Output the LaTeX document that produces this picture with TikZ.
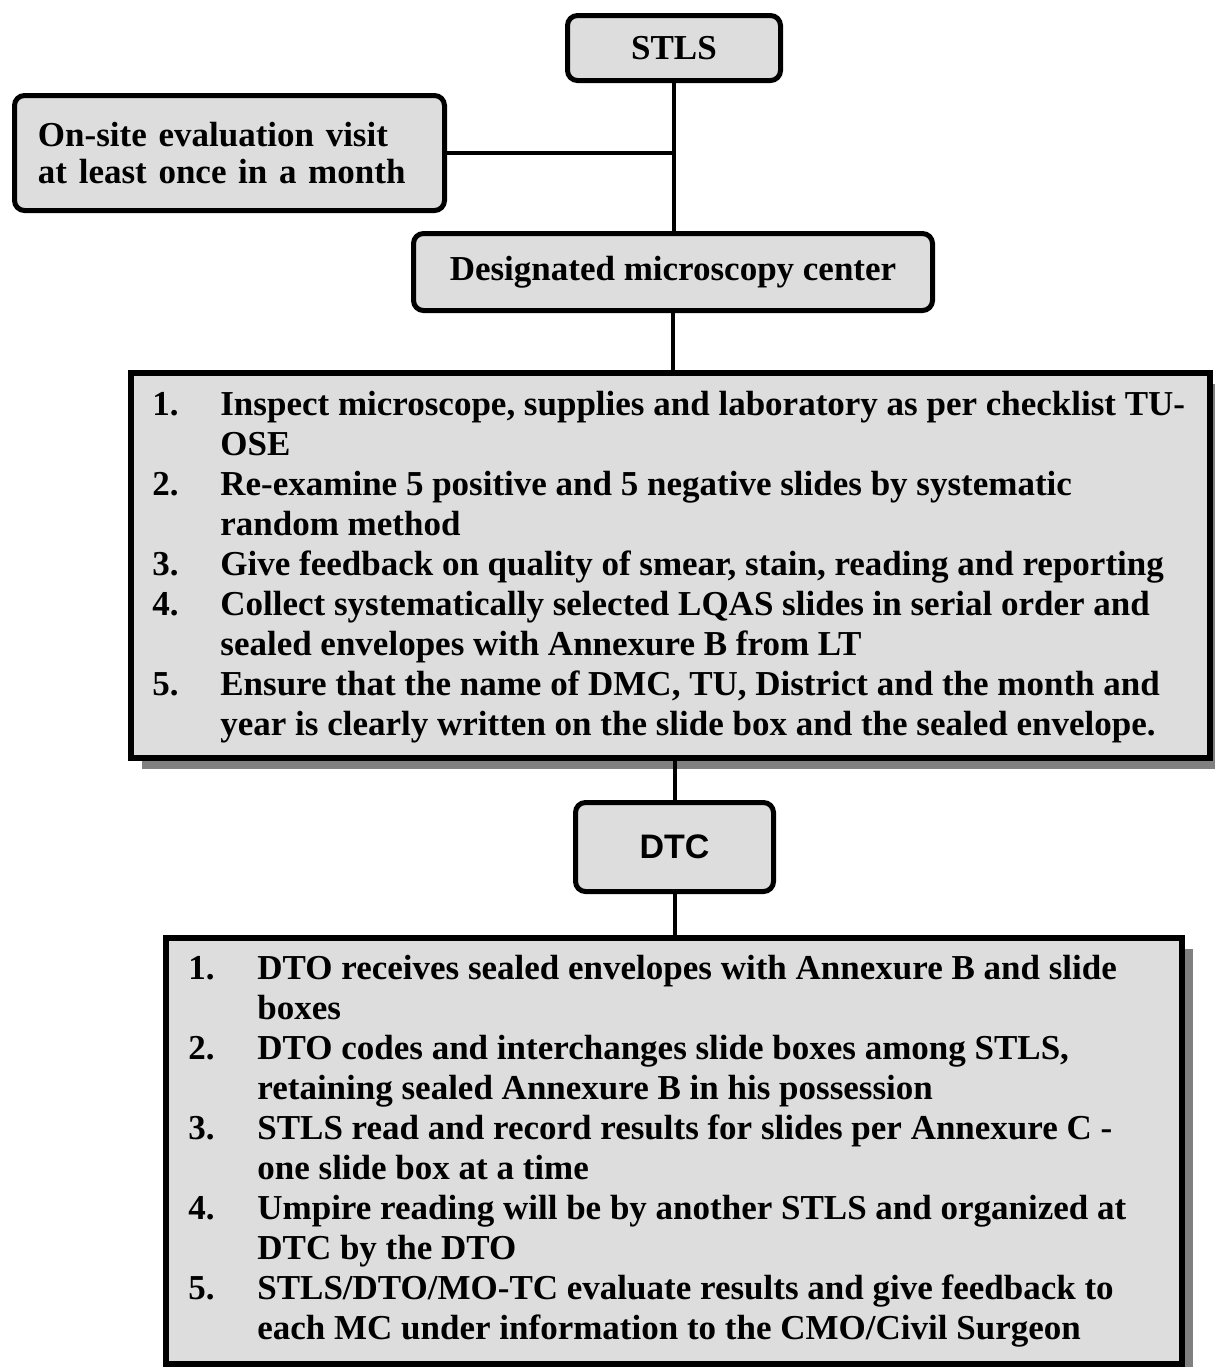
\documentclass[tikz,border=0pt]{standalone}
\usepackage{fontspec}
\setmainfont{Liberation Serif}
\newfontfamily\arialfont{Liberation Sans}
\usepackage{array}
\usetikzlibrary{shadows}
\definecolor{boxfill}{HTML}{DDDDDD}
\definecolor{shadowgray}{HTML}{808080}

\begin{document}
\begin{tikzpicture}[x=0.5pt,y=-0.5pt,
  roundbox/.style={draw=black, line width=2.5pt, fill=boxfill, rounded corners=5pt,
    inner sep=0pt, align=center, font=\fontsize{17.5}{20}\selectfont\bfseries},
  listbox/.style={draw=black, line width=3pt, fill=boxfill, inner sep=0pt,
    drop shadow={shadow xshift=5.5pt, shadow yshift=-5.5pt, fill=shadowgray, opacity=1}},
  listtext/.style={anchor=west, inner sep=0pt, align=left,
    font=\fontsize{17.5}{20}\selectfont\bfseries},
  link/.style={draw=black, line width=2pt}
]
\useasboundingbox (0,0) rectangle (1215,1367);

% upper chain
\node[roundbox, minimum width=106.5pt, minimum height=32.5pt] (stls) at (674,48) {STLS};
\node[roundbox, minimum height=57.5pt, text width=191.5pt, inner xsep=11.75pt, align=left,
  font=\fontsize{17.5}{18.5}\selectfont\bfseries] (onsite) at (229.5,153)
  {\raisebox{-2.5pt}[\height][\depth]{\begin{tabular}{@{}l@{}}On-site evaluation visit\\at least once in a month\end{tabular}}};
\node[roundbox, minimum width=259.5pt, minimum height=38.5pt] (dmc) at (673,272)
  {Designated microscopy center};

% tasks at the microscopy centre
\node[listbox, minimum width=539.5pt, minimum height=192.5pt] (box1) at (670.5,565.5) {};
\node[listtext] (items1) at (152,567) {%
\begin{tabular}{@{}p{34pt}@{}l@{}}
1. & Inspect microscope, supplies and laboratory as per checklist TU-\\
   & OSE\\
2. & Re-examine 5 positive and 5 negative slides by systematic\\
   & random method\\
3. & Give feedback on quality of smear, stain, reading and reporting\\
4. & Collect systematically selected LQAS slides in serial order and\\
   & sealed envelopes with Annexure B from LT\\
5. & Ensure that the name of DMC, TU, District and the month and\\
   & year is clearly written on the slide box and the sealed envelope.
\end{tabular}};

% district level
\node[roundbox, minimum width=99pt, minimum height=44.5pt,
  font=\fontsize{17}{20}\selectfont\arialfont\bfseries] (dtc) at (674.5,847) {DTC};

\node[listbox, minimum width=508pt, minimum height=213pt] (box2) at (674,1151) {};
\node[listtext] (items2) at (188,1151) {%
\begin{tabular}{@{}p{34.5pt}@{}l@{}}
1. & DTO receives sealed envelopes with Annexure B and slide\\
   & boxes\\
2. & DTO codes and interchanges slide boxes among STLS,\\
   & retaining sealed Annexure B in his possession\\
3. & STLS read and record results for slides per Annexure C -\\
   & one slide box at a time\\
4. & Umpire reading will be by another STLS and organized at\\
   & DTC by the DTO\\
5. & STLS/DTO/MO-TC evaluate results and give feedback to\\
   & each MC under information to the CMO/Civil Surgeon
\end{tabular}};

% connectors
\draw[link] (stls.south) -- (stls.south |- dmc.north);
\draw[link] (onsite.east) -- (onsite.east -| stls.south);
\draw[link] (dmc.south) -- (dmc.south |- box1.north);
\draw[link] (box1.south -| dtc.north) -- (dtc.north);
\draw[link] (dtc.south) -- (dtc.south |- box2.north);
\end{tikzpicture}
\end{document}
